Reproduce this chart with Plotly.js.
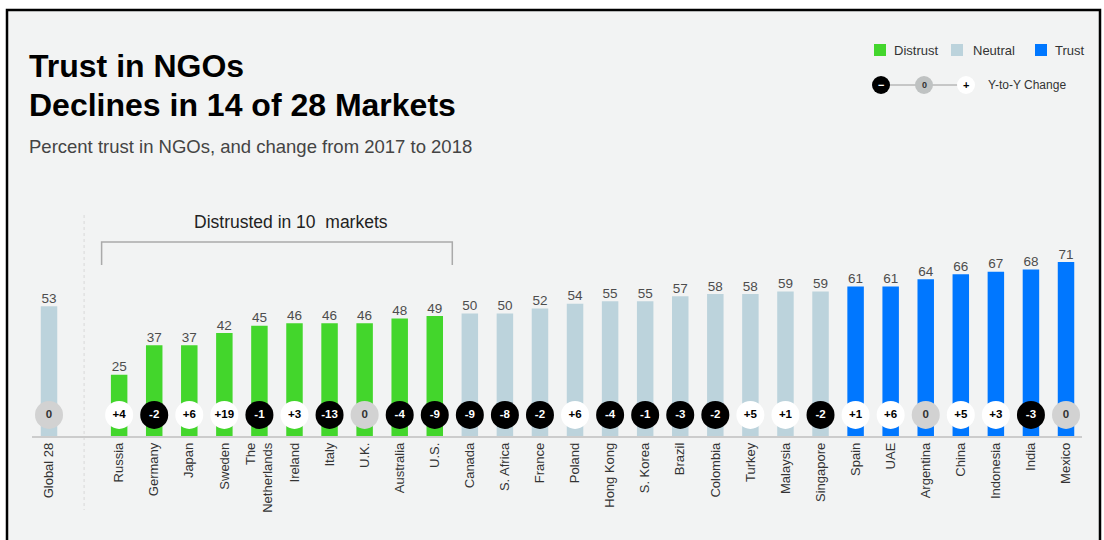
<!DOCTYPE html>
<html><head><meta charset="utf-8">
<script src="https://cdn.plot.ly/plotly-3.0.1.min.js"></script>
<style>html,body{margin:0;padding:0;background:#fff;}#chart{width:1104px;height:540px;}</style>
</head><body><div id="chart"></div>
<script>
const markets = ["Global 28","Russia","Germany","Japan","Sweden","The<br>Netherlands","Ireland","Italy","U.K.","Australia","U.S.","Canada","S. Africa","France","Poland","Hong Kong","S. Korea","Brazil","Colombia","Turkey","Malaysia","Singapore","Spain","UAE","Argentina","China","Indonesia","India","Mexico"];
const trust = [53,25,37,37,42,45,46,46,46,48,49,50,50,52,54,55,55,57,58,58,59,59,61,61,64,66,67,68,71];
const change = [0,4,-2,6,19,-1,3,-13,0,-4,-9,-9,-8,-2,6,-4,-1,-3,-2,5,1,-2,1,6,0,5,3,-3,0];

const FONT = "Liberation Sans, Arial, Helvetica, sans-serif";
const GREEN = "#43d62c", NEUTRAL = "#bcd3dc", BLUE = "#0077ff";

// positions: Global at slot 0, gap slot, then markets
const xs = markets.map((m,i)=> i===0 ? 0 : i+1);
const barColor = trust.map(v => v < 50 ? GREEN : (v < 60 ? NEUTRAL : BLUE));
const bubbleColor = change.map(c => c < 0 ? "#000000" : (c > 0 ? "#ffffff" : "#d2d2d2"));
const bubbleText = change.map(c => c > 0 ? "+"+c : String(c));
const bubbleTextColor = change.map(c => c < 0 ? "#ffffff" : (c > 0 ? "#000000" : "#333333"));
const bubbleLevel = markets.map(()=>8.6);

// plot area geometry (pixels) for placing decorations
const L = 32, R = 22, T = 160, B = 104, W = 1104, H = 540;
const pw = W-L-R, ph = H-T-B;
const px = x => (x-L)/pw;
const py = y => (H-B-y)/ph;

const traces = [
  {type:"bar", x: xs, y: trust, marker:{color: barColor}, width: 0.47, hoverinfo:"skip"},
  {type:"scatter", mode:"text", x: xs, y: trust, text: trust.map(String), textposition:"top center",
   textfont:{family:FONT, size:13.5, color:"#4d4d4d"}, hoverinfo:"skip", cliponaxis:false},
  {type:"scatter", mode:"markers+text", x: xs, y: bubbleLevel, text: bubbleText, textposition:"middle center",
   marker:{size:28, color: bubbleColor, line:{width:0}},
   textfont:{family:FONT, size:11.5, color: bubbleTextColor, weight:"bold"}, hoverinfo:"skip", cliponaxis:false}
];

const shapes = [
  // background panel with border
  {type:"rect", xref:"paper", yref:"paper", x0:px(7), x1:px(1100), y0:py(10), y1:py(560),
   fillcolor:"#f2f3f3", line:{color:"#000", width:2.5}, layer:"below"},
  // separator dotted line
  {type:"line", xref:"x", yref:"paper", x0:1, x1:1, y0:py(215), y1:py(510), line:{color:"#d8d8d8", width:1, dash:"dot"}, layer:"below"},
  // bracket
  {type:"path", xref:"x", yref:"y", path:"M 1.5,69.8 L 1.5,79.2 L 11.5,79.2 L 11.5,69.8", line:{color:"#aaaaaa", width:1.5}},
  // legend squares
  {type:"rect", xref:"paper", yref:"paper", x0:px(874), x1:px(886), y0:py(56), y1:py(44), fillcolor:GREEN, line:{width:0}},
  {type:"rect", xref:"paper", yref:"paper", x0:px(951), x1:px(963), y0:py(56), y1:py(44), fillcolor:NEUTRAL, line:{width:0}},
  {type:"rect", xref:"paper", yref:"paper", x0:px(1035), x1:px(1047), y0:py(56), y1:py(44), fillcolor:BLUE, line:{width:0}},
  // Y-to-Y legend
  {type:"line", xref:"paper", yref:"paper", x0:px(881), x1:px(966), y0:py(85), y1:py(85), line:{color:"#9a9a9a", width:1}},
  {type:"circle", xref:"paper", yref:"paper", x0:px(872), x1:px(890), y0:py(94), y1:py(76), fillcolor:"#000", line:{width:0}},
  {type:"circle", xref:"paper", yref:"paper", x0:px(915), x1:px(933), y0:py(94), y1:py(76), fillcolor:"#bfc2c2", line:{width:0}},
  {type:"circle", xref:"paper", yref:"paper", x0:px(957), x1:px(975), y0:py(94), y1:py(76), fillcolor:"#fff", line:{width:0}}
];

const annotations = [
  {xref:"paper", yref:"paper", x:px(27), y:py(66), xanchor:"left", yanchor:"middle", showarrow:false,
   text:"<b>Trust in NGOs</b>", font:{family:FONT, size:32, color:"#000"}},
  {xref:"paper", yref:"paper", x:px(27), y:py(105), xanchor:"left", yanchor:"middle", showarrow:false,
   text:"<b>Declines in 14 of 28 Markets</b>", font:{family:FONT, size:32, color:"#000"}},
  {xref:"paper", yref:"paper", x:px(27), y:py(146), xanchor:"left", yanchor:"middle", showarrow:false,
   text:"Percent trust in NGOs, and change from 2017 to 2018", font:{family:FONT, size:18.5, color:"#444"}},
  {xref:"x", yref:"y", x:6.9, y:87.2, xanchor:"center", yanchor:"middle", showarrow:false,
   text:"Distrusted in 10  markets", font:{family:FONT, size:17.5, color:"#222"}},
  {xref:"paper", yref:"paper", x:px(892), y:py(50), xanchor:"left", yanchor:"middle", showarrow:false,
   text:"Distrust", font:{family:FONT, size:13, color:"#333"}},
  {xref:"paper", yref:"paper", x:px(971), y:py(50), xanchor:"left", yanchor:"middle", showarrow:false,
   text:"Neutral", font:{family:FONT, size:13, color:"#333"}},
  {xref:"paper", yref:"paper", x:px(1053), y:py(50), xanchor:"left", yanchor:"middle", showarrow:false,
   text:"Trust", font:{family:FONT, size:13, color:"#333"}},
  {xref:"paper", yref:"paper", x:px(881), y:py(85), xanchor:"center", yanchor:"middle", showarrow:false,
   text:"<b>−</b>", font:{family:FONT, size:11, color:"#fff"}},
  {xref:"paper", yref:"paper", x:px(924), y:py(85), xanchor:"center", yanchor:"middle", showarrow:false,
   text:"<b>0</b>", font:{family:FONT, size:9, color:"#333"}},
  {xref:"paper", yref:"paper", x:px(966), y:py(85), xanchor:"center", yanchor:"middle", showarrow:false,
   text:"<b>+</b>", font:{family:FONT, size:11, color:"#000"}},
  {xref:"paper", yref:"paper", x:px(986), y:py(85), xanchor:"left", yanchor:"middle", showarrow:false,
   text:"Y-to-Y Change", font:{family:FONT, size:12, color:"#333"}}
];

const layout = {
  width: W, height: H,
  margin:{l:L, r:R, t:T, b:B, pad:0},
  paper_bgcolor:"#ffffff", plot_bgcolor:"rgba(0,0,0,0)",
  showlegend:false, hovermode:false,
  xaxis:{range:[-0.485, 29.456], tickvals: xs, ticktext: markets, tickangle:-90,
         tickfont:{family:FONT, size:13, color:"#333"}, showgrid:false, zeroline:false,
         showline:true, linecolor:"#cccccc", linewidth:1.5, ticks:"", fixedrange:true},
  yaxis:{range:[0, ph/2.45], visible:false, showgrid:false, zeroline:false, fixedrange:true},
  shapes: shapes, annotations: annotations
};

Plotly.newPlot("chart", traces, layout, {displayModeBar:false, staticPlot:true});
</script>
</body></html>
